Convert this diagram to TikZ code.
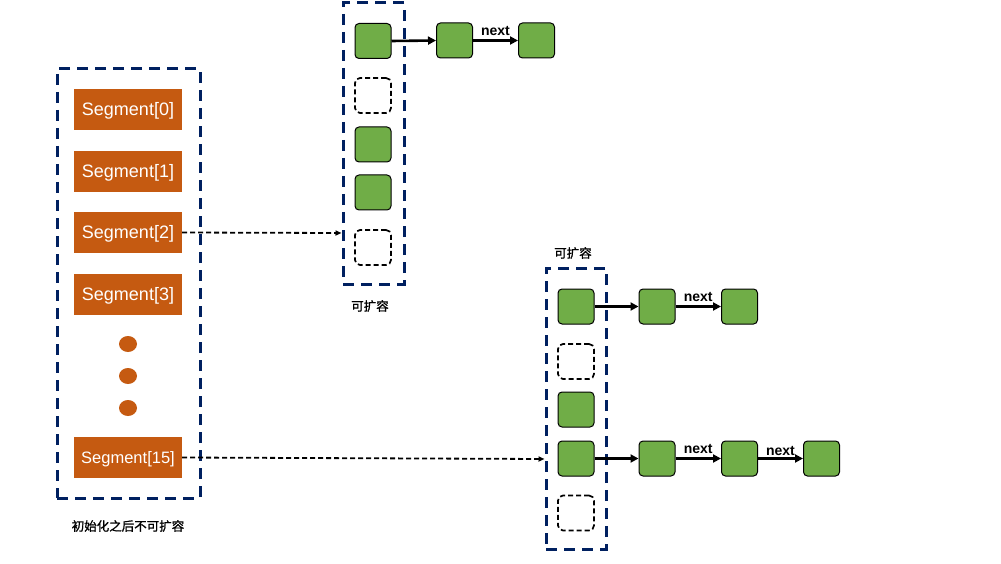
\documentclass[tikz,border=0pt]{standalone}
\usepackage{fontspec}
\setmainfont{Liberation Sans}
\newfontfamily\cjk{Noto Sans CJK SC}[FakeBold=1.2]
\usetikzlibrary{arrows.meta,shapes.geometric}
\definecolor{navy}{HTML}{002060}
\definecolor{segorange}{HTML}{C55A11}
\definecolor{cellgreen}{HTML}{70AD47}
\begin{document}
\begin{tikzpicture}[x=1pt,y=-1pt,
  frame/.style={draw=navy,line width=3pt,dash pattern=on 11pt off 7pt},
  seg/.style={fill=segorange,text=white,minimum width=108pt,minimum height=41pt,inner sep=0pt,text height=12.5pt,text depth=0pt,font=\fontsize{18}{18}\selectfont},
  full/.style={draw=black,fill=cellgreen,rounded corners=4pt,minimum width=36pt,minimum height=35pt,inner sep=0pt,line width=1pt},
  empty/.style={draw=black,rounded corners=5pt,minimum width=36pt,minimum height=35pt,inner sep=0pt,line width=1.7pt,dash pattern=on 5pt off 3pt},
  dot/.style={ellipse,fill=segorange,minimum width=18pt,minimum height=16pt,inner sep=0pt},
  link/.style={line width=2.6pt,-{Triangle[length=8pt,width=8pt]}},
  ref/.style={line width=1.8pt,dash pattern=on 5pt off 3pt,-{Triangle[length=6pt,width=5pt]}},
  lbl/.style={font=\bfseries\fontsize{14}{14}\selectfont,inner sep=0pt},
  cn/.style={font=\cjk\fontsize{12.5}{12.5}\selectfont,inner sep=0pt}
]
\useasboundingbox (0,0) rectangle (1001,564);
% left frame
\node[frame,minimum width=143pt,minimum height=429pt,inner sep=0pt] (lf) at (128.5,283.5) {};
\node[seg] (s0) at (128,109.5) {Segment[0]};
\node[seg] (s1) at (128,171.5) {Segment[1]};
\node[seg] (s2) at (128,232.5) {Segment[2]};
\node[seg] (s3) at (128,294.5) {Segment[3]};
\node[seg,text height=11.5pt,font=\fontsize{16.5}{16.5}\selectfont] (s15) at (128,457.5) {Segment[15]};
\node[dot] (d1) at (128,344) {};
\node[dot] (d2) at (128,376) {};
\node[dot] (d3) at (128,408) {};
\node[cn] (lt) at (128,526) {初始化之后不可扩容};
% top column
\node[frame,minimum width=61pt,minimum height=281pt,inner sep=0pt] (tf) at (373.5,143.5) {};
\node[full] (t0) at (373,41) {};
\node[empty] (t1) at (373,95.5) {};
\node[full] (t2) at (373,144.5) {};
\node[full] (t3) at (373,192.5) {};
\node[empty] (t4) at (373,247.5) {};
\node[cn] (tl) at (370,306) {可扩容};
\node[full] (ta) at (454.5,40.5) {};
\node[full] (tb) at (536.5,40.5) {};
\draw[link] (t0.east) -- (ta.west);
\draw[link] (ta.east) -- node[lbl,above=4pt] (n1) {next} (tb.west);
% bottom column
\node[frame,minimum width=60pt,minimum height=281pt,inner sep=0pt] (bf) at (576,408.5) {};
\node[cn] (bl) at (573,253) {可扩容};
\node[full] (b0) at (576,306.5) {};
\node[empty] (b1) at (576,361.5) {};
\node[full] (b2) at (576,409.5) {};
\node[full] (b3) at (576,458.5) {};
\node[empty] (b4) at (576,513) {};
\node[full] (ba) at (657,306.5) {};
\node[full] (bb) at (739.5,306.5) {};
\draw[link] (b0.east) -- (ba.west);
\draw[link] (ba.east) -- node[lbl,above=4pt] (n2) {next} (bb.west);
\node[full] (ca) at (657,458.5) {};
\node[full] (cb) at (739.5,458.5) {};
\node[full] (cc) at (821.5,458.5) {};
\draw[link] (b3.east) -- (ca.west);
\draw[link] (ca.east) -- node[lbl,above=4pt] (n3) {next} (cb.west);
\draw[link] (cb.east) -- node[lbl,above=1.5pt] (n4) {next} (cc.west);
% references
\draw[ref] (s2.east) -- (tf.west |- 0,233);
\draw[ref] (s15.east) -- (bf.west |- 0,459);
\end{tikzpicture}
\end{document}
